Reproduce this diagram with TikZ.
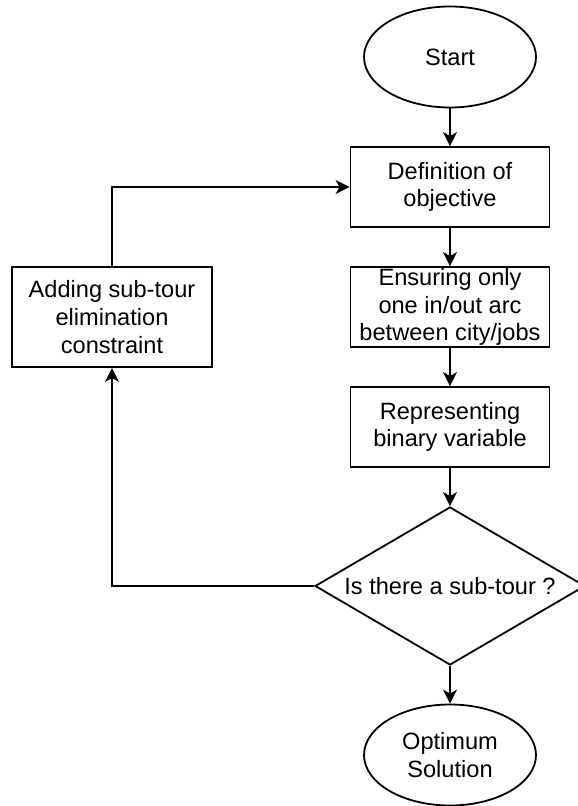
\documentclass[tikz,border=0pt]{standalone}
\usepackage{fontspec}
\setmainfont{Liberation Sans}
\usetikzlibrary{arrows.meta, positioning, shapes.geometric}
\tikzset{
    startstop/.style={ellipse, draw, minimum width=86pt, minimum height=50.5pt, inner sep=1pt, align=center},
    process/.style={rectangle, draw, minimum width=99.5pt, minimum height=40pt, inner sep=0pt, align=center},
    decision/.style={diamond, draw, aspect=1.7, minimum width=135pt, minimum height=79pt, inner sep=0pt, align=center}
}

\begin{document}
\begin{tikzpicture}[x=0.5pt, y=-0.5pt, >={Stealth[length=7pt, width=7pt, inset=2pt]}, line width=0.9pt, font=\fontsize{11.8}{13.8}\selectfont]
% Flow chart of the TSP model with sub-tour elimination loop.
  \useasboundingbox (0,0) rectangle (577,806);
  \node[startstop] (0) at (450, 57) {Start};
  \node[process] (1) at (450, 187) {Definition of\\objective};
  \node[process] (2) at (450, 307) {Ensuring only\\one in/out arc\\between city/jobs};
  \node[process] (3) at (450, 427) {Representing\\binary variable};
  \node[decision] (4) at (450, 586) {Is there a sub-tour ?};
  \node[startstop] (5) at (450, 755) {Optimum\\Solution};
  \node[process, minimum width=100pt, minimum height=50pt] (6) at (112, 317) {Adding sub-tour\\elimination\\constraint};
  \draw[->] (0) -- (1);
  \draw[->] (1) -- (2);
  \draw[->] (2) -- (3);
  \draw[->] (3) -- (4);
  \draw[->] (4) -- (5);
  \draw[->] (4) -| (6);
  \draw[->] (6) |- (1);
\end{tikzpicture}
\end{document}
